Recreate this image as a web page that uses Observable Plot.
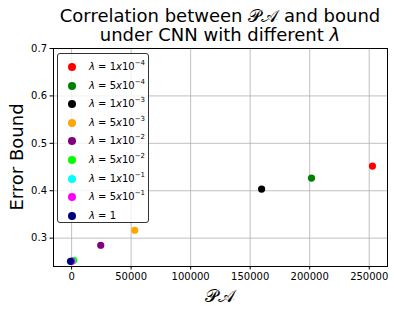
<!DOCTYPE html>
<html><head><meta charset="utf-8">
<script src="https://cdn.jsdelivr.net/npm/d3@7"></script>
<script src="https://cdn.jsdelivr.net/npm/@observablehq/plot@0.6"></script>
<style>
body{margin:0;background:#fff;font-family:"DejaVu Sans",sans-serif;}
#fig{position:relative;width:394px;height:312px;overflow:hidden;}
#fig svg{position:absolute;left:0;top:0;}
.title{position:absolute;left:53px;width:334px;text-align:center;font-size:18px;line-height:20px;color:#000;white-space:nowrap;}
.ylab{position:absolute;left:16px;top:157px;font-size:18px;transform:translate(-50%,-50%) rotate(-90deg);white-space:nowrap;}
.xlab{position:absolute;left:220px;top:296px;font-size:18px;transform:translate(-50%,-50%);white-space:nowrap;font-family:"DejaVu Serif",serif;}
#legend{position:absolute;left:57px;top:53px;width:92px;height:170px;border:1px solid #333;border-radius:3px;background:rgba(255,255,255,0.8);box-sizing:border-box;}
.row{position:absolute;left:0;height:14px;font-size:10px;white-space:nowrap;}
.row .dot{position:absolute;left:10px;top:3px;width:8px;height:8px;border-radius:50%;}
.row .lab{position:absolute;left:31px;top:0;line-height:14px;}
.row sup{font-size:7px;vertical-align:5px;line-height:0;}
i{font-style:italic;}
</style>
</head><body>
<div id="fig"></div>
<script>
const labels = ["1x10^-4","5x10^-4","1x10^-3","5x10^-3","1x10^-2","5x10^-2","1x10^-1","5x10^-1","1"];
const colors = ["red","green","black","orange","purple","lime","cyan","magenta","navy"];
const paValues = [252700, 201500, 159600, 53000, 24500, 1850, 500, 100, -900];
const boundValues = [0.452, 0.4266, 0.4034, 0.3167, 0.285, 0.2533, 0.2518, 0.2515, 0.2512];
const xTicks = [0, 50000, 100000, 150000, 200000, 250000];
const yTicks = [0.3, 0.4, 0.5, 0.6, 0.7];

const data = labels.map((l, i) => ({label: l, color: colors[i], pa: paValues[i], bound: boundValues[i]}));

const chart = Plot.plot({
  width: 394, height: 312,
  marginLeft: 53, marginRight: 7, marginTop: 48, marginBottom: 46,
  style: {fontFamily: "DejaVu Sans", fontSize: "10px", color: "#000", background: "transparent"},
  x: {domain: [-15200, 265350], ticks: xTicks, tickFormat: d => String(d), tickSize: 3.5, tickPadding: 3, label: null},
  y: {domain: [0.2402, 0.7], ticks: yTicks, tickFormat: d3.format(".1f"), tickSize: 3.5, tickPadding: 3, label: null},
  marks: [
    Plot.gridX(xTicks, {stroke: "#b0b0b0", strokeOpacity: 1, strokeWidth: 0.8}),
    Plot.gridY(yTicks, {stroke: "#b0b0b0", strokeOpacity: 1, strokeWidth: 0.8}),
    Plot.axisX({ticks: xTicks, tickFormat: d => String(d), tickSize: 3.5, tickPadding: 3, label: null, fontSize: 10}),
    Plot.axisY({ticks: yTicks, tickFormat: d3.format(".1f"), tickSize: 3.5, tickPadding: 3, label: null, fontSize: 10}),
    Plot.dot(data, {x: "pa", y: "bound", fill: d => d.color, r: 3.6, stroke: null}),
    Plot.frame({stroke: "#000", strokeWidth: 1})
  ]
});
const fig = document.getElementById("fig");
fig.appendChild(chart);

function addDiv(cls, html, top){
  const d = document.createElement("div");
  d.className = cls; d.innerHTML = html;
  if (top !== undefined) d.style.top = top + "px";
  fig.appendChild(d);
  return d;
}
addDiv("title", "Correlation between <span style=\"font-family:'DejaVu Serif',serif\">𝒫𝒜</span> and bound", 6);
addDiv("title", "under CNN with different <i>λ</i>", 25);
addDiv("ylab", "Error Bound");
addDiv("xlab", "𝒫𝒜");

const legend = document.createElement("div");
legend.id = "legend";
fig.appendChild(legend);
data.forEach((d, i) => {
  const row = document.createElement("div");
  row.className = "row";
  row.style.top = (6 + i * 18.6) + "px";
  const m = d.label.match(/^(\d)x10\^(-\d)$/);
  const txt = m ? `<i>λ</i> = ${m[1]}<i>x</i>10<sup>${m[2].replace("-", "−")}</sup>` : `<i>λ</i> = ${d.label}`;
  row.innerHTML = `<span class="dot" style="background:${d.color}"></span><span class="lab">${txt}</span>`;
  legend.appendChild(row);
});
</script>
</body></html>
